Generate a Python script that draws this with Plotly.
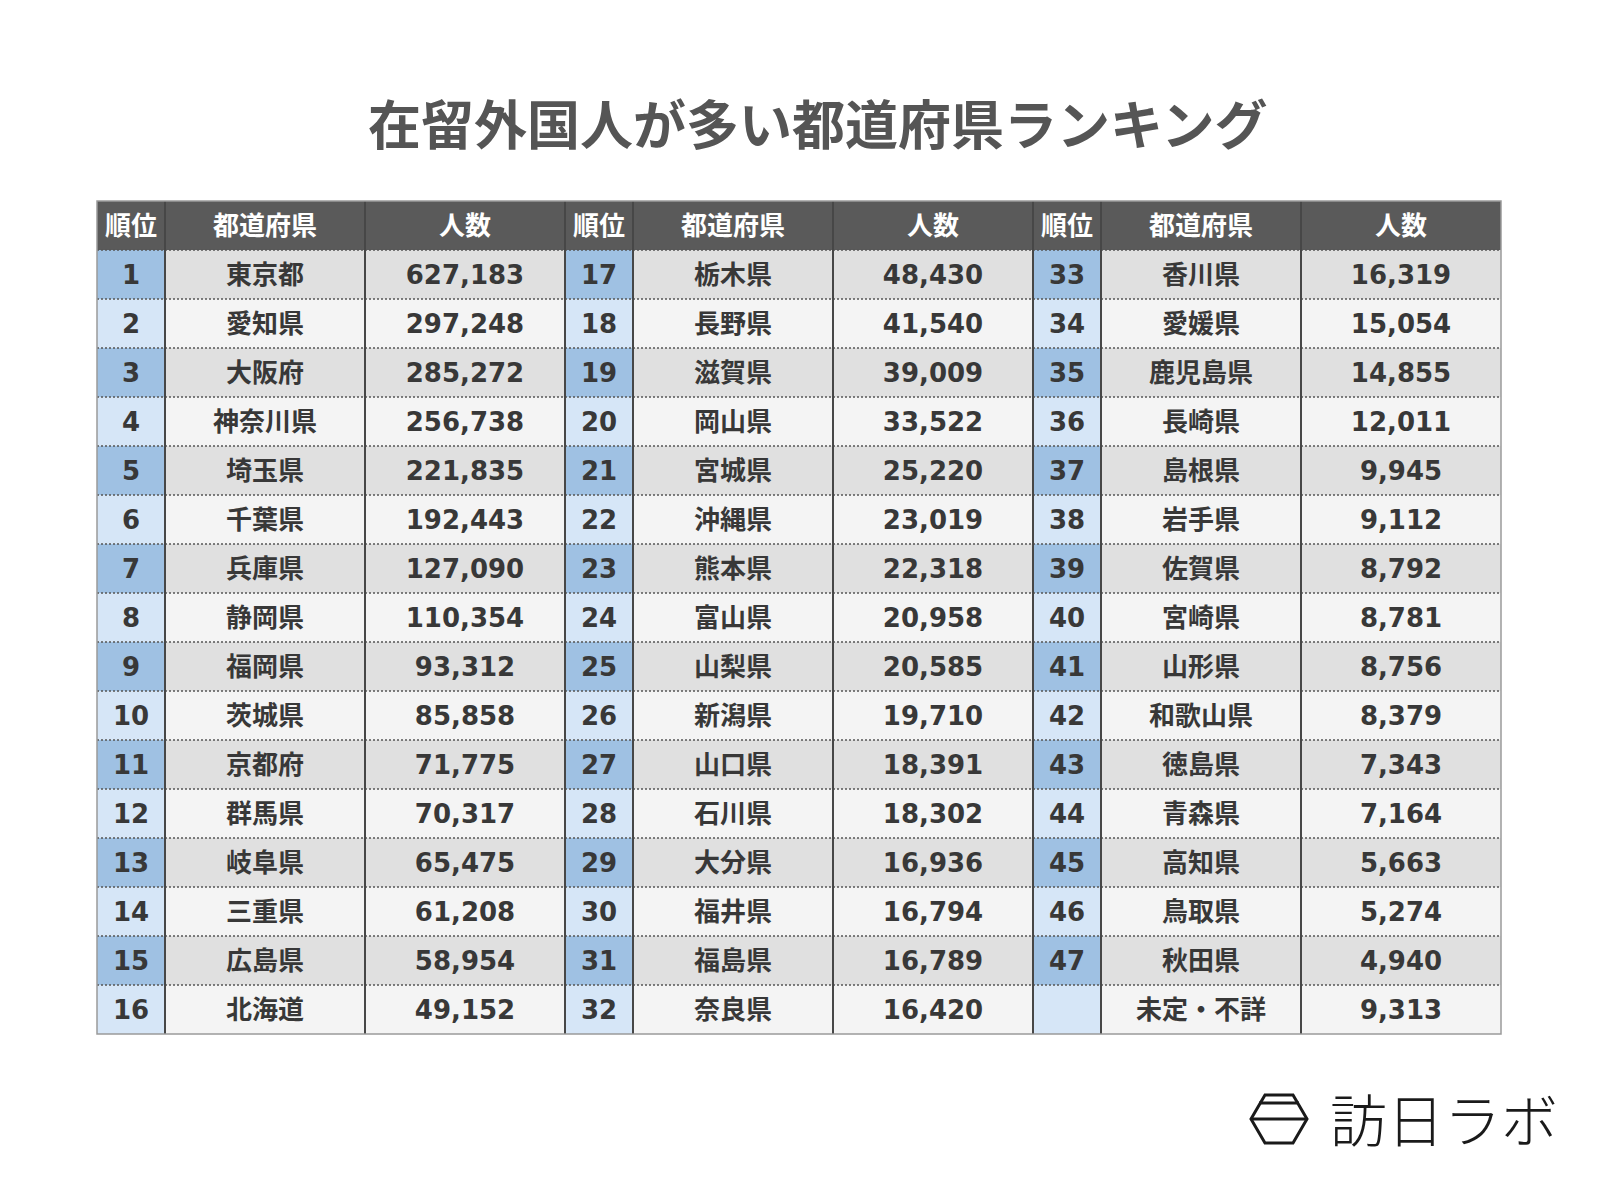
import plotly.graph_objects as go

# ---------------- data ----------------
title = "在留外国人が多い都道府県ランキング"
header_labels = ["順位", "都道府県", "人数"]

ranks = ["1", "2", "3", "4", "5", "6", "7", "8", "9", "10", "11", "12", "13", "14", "15", "16",
         "17", "18", "19", "20", "21", "22", "23", "24", "25", "26", "27", "28", "29", "30", "31", "32",
         "33", "34", "35", "36", "37", "38", "39", "40", "41", "42", "43", "44", "45", "46", "47", ""]

prefectures = ["東京都", "愛知県", "大阪府", "神奈川県", "埼玉県", "千葉県", "兵庫県", "静岡県",
               "福岡県", "茨城県", "京都府", "群馬県", "岐阜県", "三重県", "広島県", "北海道",
               "栃木県", "長野県", "滋賀県", "岡山県", "宮城県", "沖縄県", "熊本県", "富山県",
               "山梨県", "新潟県", "山口県", "石川県", "大分県", "福井県", "福島県", "奈良県",
               "香川県", "愛媛県", "鹿児島県", "長崎県", "島根県", "岩手県", "佐賀県", "宮崎県",
               "山形県", "和歌山県", "徳島県", "青森県", "高知県", "鳥取県", "秋田県", "未定・不詳"]

counts = [627183, 297248, 285272, 256738, 221835, 192443, 127090, 110354,
          93312, 85858, 71775, 70317, 65475, 61208, 58954, 49152,
          48430, 41540, 39009, 33522, 25220, 23019, 22318, 20958,
          20585, 19710, 18391, 18302, 16936, 16794, 16789, 16420,
          16319, 15054, 14855, 12011, 9945, 9112, 8792, 8781,
          8756, 8379, 7343, 7164, 5663, 5274, 4940, 9313]

logo_text = "訪日ラボ"

# ---------------- layout constants ----------------
W, H = 1600, 1200
OFF = 8  # page body margin
X0, Y0 = 97, 201
HEADER_H = 49
ROW_H = 49
COL_W = [68, 200, 200]
ROWS_PER_GROUP = 16
N_GROUPS = 3
TEXT_DY = 3  # small downward nudge to centre glyphs in cells

FONT = "Noto Sans CJK JP"
NUM_FONT = "DejaVu Sans"
TEXT_COLOR = "#383838"
HEADER_BG = "#5a5a5a"
RANK_DARK, RANK_LIGHT = "#9fc1e3", "#d6e6f7"
CELL_DARK, CELL_LIGHT = "#e0e0e0", "#f4f4f4"
GRID_DOT = "#555555"
GRID_V = "#474747"

group_w = sum(COL_W)
table_w = group_w * N_GROUPS
table_bottom = Y0 + HEADER_H + ROWS_PER_GROUP * ROW_H

fig = go.Figure()
shapes = []

# header background
shapes.append(dict(type="rect", x0=X0, x1=X0 + table_w, y0=Y0, y1=Y0 + HEADER_H,
                   fillcolor=HEADER_BG, line=dict(width=0), layer="below"))

col_edges = []
for g in range(N_GROUPS):
    gx = X0 + g * group_w
    edges = [gx, gx + COL_W[0], gx + COL_W[0] + COL_W[1], gx + group_w]
    col_edges.append(edges)
    for i in range(ROWS_PER_GROUP):
        y0 = Y0 + HEADER_H + i * ROW_H
        dark = (i % 2 == 0)
        for c in range(3):
            fill = (RANK_DARK if dark else RANK_LIGHT) if c == 0 else (CELL_DARK if dark else CELL_LIGHT)
            shapes.append(dict(type="rect", x0=edges[c], x1=edges[c + 1], y0=y0, y1=y0 + ROW_H,
                               fillcolor=fill, line=dict(width=0), layer="below"))

# dotted horizontal lines
for i in range(ROWS_PER_GROUP):
    y = Y0 + HEADER_H + i * ROW_H
    shapes.append(dict(type="line", x0=X0, x1=X0 + table_w, y0=y, y1=y,
                       line=dict(color=GRID_DOT, width=1.3, dash="2px,2px"), layer="above"))

# vertical lines
for g in range(N_GROUPS):
    for k, x in enumerate(col_edges[g]):
        if (g == 0 and k == 0) or (g == N_GROUPS - 1 and k == 3):
            continue
        if k == 0 and g > 0:
            continue
        shapes.append(dict(type="line", x0=x, x1=x, y0=Y0, y1=table_bottom,
                           line=dict(color=GRID_V, width=2), layer="above"))

# outer border
shapes.append(dict(type="rect", x0=X0, x1=X0 + table_w, y0=Y0, y1=table_bottom,
                   line=dict(color="#9a9a9a", width=1.5), fillcolor="rgba(0,0,0,0)", layer="above"))

# ---------------- header text ----------------
hx, hy, ht = [], [], []
for g in range(N_GROUPS):
    e = col_edges[g]
    for c in range(3):
        hx.append((e[c] + e[c + 1]) / 2)
        hy.append(Y0 + HEADER_H / 2 + TEXT_DY)
        ht.append(header_labels[c])
fig.add_trace(go.Scatter(x=hx, y=hy, text=ht, mode="text", hoverinfo="skip",
                         textfont=dict(family=FONT, size=26, color="white", weight="bold"),
                         textposition="middle center"))

# ---------------- body text ----------------
count_labels = [f"{v:,}" for v in counts]
for g in range(N_GROUPS):
    e = col_edges[g]
    sl = slice(g * ROWS_PER_GROUP, (g + 1) * ROWS_PER_GROUP)
    ys = [Y0 + HEADER_H + (i + 0.5) * ROW_H + TEXT_DY for i in range(ROWS_PER_GROUP)]
    cols = [(ranks[sl], NUM_FONT, 26), (prefectures[sl], FONT, 26), (count_labels[sl], NUM_FONT, 26)]
    for c, (txt, fam, fs) in enumerate(cols):
        fig.add_trace(go.Scatter(
            x=[(e[c] + e[c + 1]) / 2] * ROWS_PER_GROUP, y=ys, text=txt, mode="text",
            hoverinfo="skip",
            textfont=dict(family=fam, size=fs, color=TEXT_COLOR, weight="bold"),
            textposition="middle center"))

# ---------------- logo (hexagon mark) ----------------
hex_path = ("M 1265 1095 L 1293 1095 L 1307 1119 L 1293 1143 L 1265 1143 L 1251 1119 Z")
shapes.append(dict(type="path", path=hex_path, line=dict(color="#1a1a1a", width=3),
                   fillcolor="rgba(0,0,0,0)", layer="above"))
shapes.append(dict(type="line", x0=1259, x1=1299, y0=1103, y1=1103,
                   line=dict(color="#1a1a1a", width=3), layer="above"))
shapes.append(dict(type="line", x0=1251, x1=1307, y0=1119, y1=1119,
                   line=dict(color="#1a1a1a", width=3), layer="above"))

annotations = [
    dict(text=title, x=817, y=122, xref="x", yref="y", showarrow=False,
         font=dict(family=FONT, size=53, color="#555555", weight="bold"),
         xanchor="center", yanchor="middle"),
    dict(text=logo_text, x=1444, y=1117, xref="x", yref="y", showarrow=False,
         font=dict(family=FONT, size=57, color="#1a1a1a", weight=300),
         xanchor="center", yanchor="middle"),
]

fig.update_layout(
    width=W, height=H, margin=dict(l=0, r=0, t=0, b=0),
    paper_bgcolor="white", plot_bgcolor="white", showlegend=False,
    xaxis=dict(range=[OFF, W + OFF], visible=False, fixedrange=True),
    yaxis=dict(range=[H + OFF, OFF], visible=False, fixedrange=True),
    shapes=shapes, annotations=annotations,
)

fig.write_html("out.html")
